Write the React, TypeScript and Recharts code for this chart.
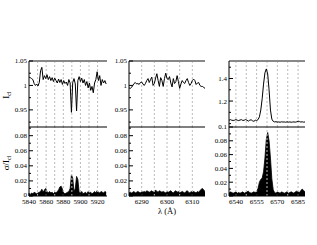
import { ComposedChart, Line, Area, XAxis, YAxis, ReferenceLine } from "recharts";

// Na D region
const naLambda = [
  5840, 5841.5, 5843, 5844.5, 5846, 5847.5, 5849, 5850.5, 5852, 5853.5,
  5855, 5856.5, 5858, 5859.5, 5861, 5862.5, 5864, 5865.5, 5867, 5868.5,
  5870, 5871.5, 5873, 5874.5, 5876, 5877.5, 5879, 5880.5, 5882, 5883.5,
  5885, 5886.5, 5888, 5889.5, 5891, 5892.5, 5894, 5895.5, 5897, 5898.5,
  5900, 5901.5, 5903, 5904.5, 5906, 5907.5, 5909, 5910.5, 5912, 5913.5,
  5915, 5916.5, 5918, 5919.5, 5921, 5922.5, 5924, 5925.5, 5927, 5928.5,
  5930,
];
const naFlux = [
  1.017, 1.016, 1.014, 1.012, 1.004, 1.0, 1.003, 0.999, 1.006, 1.03,
  1.037, 1.012, 1.02, 1.014, 1.022, 1.012, 1.018, 1.01, 1.016, 1.008,
  1.015, 1.01, 1.005, 1.013, 1.006, 1.012, 1.002, 1.01, 1.004, 1.007,
  1.0, 1.012, 1.005, 0.945, 1.006, 1.014, 1.003, 0.948, 1.01, 1.018,
  1.008, 1.015, 1.005, 1.012, 1.0, 1.008, 0.995, 1.005, 0.99, 0.998,
  0.985, 1.005, 1.012, 1.028, 1.01, 1.02, 1.0, 1.012, 1.005, 1.01,
  1.003,
];
const naSigma = [
  0.003, 0.002, 0.004, 0.003, 0.005, 0.004, 0.003, 0.004, 0.005, 0.006,
  0.009, 0.005, 0.008, 0.01, 0.006, 0.004, 0.006, 0.004, 0.005, 0.003,
  0.005, 0.004, 0.006, 0.008, 0.012, 0.013, 0.009, 0.004, 0.003, 0.004,
  0.005, 0.006, 0.01, 0.028, 0.024, 0.006, 0.01, 0.026, 0.022, 0.005,
  0.004, 0.006, 0.003, 0.004, 0.005, 0.003, 0.006, 0.004, 0.005, 0.003,
  0.004, 0.006, 0.004, 0.007, 0.005, 0.004, 0.006, 0.005, 0.004, 0.006,
  0.005,
];

// [O I] 6300 region
const oLambda = [
  6285, 6285.5, 6286, 6286.5, 6287, 6287.5, 6288, 6288.5, 6289, 6289.5,
  6290, 6290.5, 6291, 6291.5, 6292, 6292.5, 6293, 6293.5, 6294, 6294.5,
  6295, 6295.5, 6296, 6296.5, 6297, 6297.5, 6298, 6298.5, 6299, 6299.5,
  6300, 6300.5, 6301, 6301.5, 6302, 6302.5, 6303, 6303.5, 6304, 6304.5,
  6305, 6305.5, 6306, 6306.5, 6307, 6307.5, 6308, 6308.5, 6309, 6309.5,
  6310, 6310.5, 6311, 6311.5, 6312, 6312.5, 6313, 6313.5, 6314, 6314.5,
  6315,
];
const oFlux = [
  0.995, 0.994, 0.996, 1.0, 1.004, 1.006, 1.003, 1.004, 1.002, 1.006,
  1.007, 1.003, 1.0, 1.004, 1.01, 1.014, 1.006, 1.012, 1.017, 1.0,
  1.004, 1.015, 1.024, 1.01, 0.998, 1.016, 1.01, 0.998, 1.014, 1.025,
  1.014, 1.012, 1.018, 1.005, 0.997, 1.014, 1.004, 1.008, 1.02, 1.008,
  0.994, 1.003, 1.01, 1.006, 1.004, 1.01, 1.014, 1.006, 1.0, 1.004,
  1.01, 1.013, 1.01, 1.002, 1.005, 1.006, 1.0, 0.998, 0.998, 0.996,
  0.994,
];
const oSigma = [
  0.004, 0.005, 0.004, 0.005, 0.006, 0.004, 0.005, 0.006, 0.005, 0.004,
  0.006, 0.005, 0.006, 0.005, 0.007, 0.006, 0.005, 0.006, 0.007, 0.005,
  0.006, 0.008, 0.006, 0.005, 0.007, 0.006, 0.005, 0.006, 0.005, 0.004,
  0.006, 0.005, 0.006, 0.007, 0.005, 0.004, 0.006, 0.007, 0.005, 0.006,
  0.004, 0.005, 0.006, 0.005, 0.004, 0.006, 0.007, 0.005, 0.004, 0.006,
  0.005, 0.006, 0.005, 0.004, 0.006, 0.005, 0.007, 0.009, 0.01, 0.008,
  0.006,
];

// H-alpha region
const haLambda = [
  6535, 6536, 6537, 6538, 6539, 6540, 6541, 6542, 6543, 6544,
  6545, 6546, 6547, 6548, 6549, 6550, 6551, 6552, 6553, 6554,
  6555, 6556, 6557, 6558, 6559, 6560, 6561, 6562, 6563, 6564,
  6565, 6566, 6567, 6568, 6569, 6570, 6571, 6572, 6573, 6574,
  6575, 6576, 6577, 6578, 6579, 6580, 6581, 6582, 6583, 6584,
  6585, 6586, 6587, 6588, 6589, 6590,
];
const haFlux = [
  1.03, 1.035, 1.03, 1.028, 1.03, 1.036, 1.03, 1.027, 1.032, 1.035,
  1.028, 1.03, 1.036, 1.03, 1.022, 1.03, 1.034, 1.025, 1.02, 1.03,
  1.028, 1.035, 1.06, 1.12, 1.22, 1.35, 1.45, 1.485, 1.44, 1.3,
  1.12, 1.04, 1.02, 1.015, 1.017, 1.013, 1.015, 1.012, 1.016, 1.014,
  1.015, 1.012, 1.016, 1.013, 1.015, 1.012, 1.014, 1.015, 1.013, 1.016,
  1.022, 1.018, 1.014, 1.016, 1.013, 1.015,
];
const haSigma = [
  0.004, 0.006, 0.005, 0.004, 0.005, 0.006, 0.004, 0.005, 0.004, 0.005,
  0.006, 0.004, 0.005, 0.006, 0.007, 0.005, 0.004, 0.005, 0.006, 0.005,
  0.007, 0.011, 0.02, 0.024, 0.026, 0.035, 0.055, 0.082, 0.092, 0.08,
  0.055, 0.025, 0.009, 0.005, 0.004, 0.006, 0.005, 0.004, 0.006, 0.005,
  0.004, 0.005, 0.006, 0.004, 0.005, 0.006, 0.005, 0.004, 0.006, 0.007,
  0.006, 0.005, 0.008, 0.01, 0.008, 0.006,
];

// dashed guide lines and tick labels
const naGrid = [5850, 5860, 5870, 5880, 5890, 5900, 5910, 5920];
const oGrid = [6290, 6295, 6300, 6305, 6310];
const haGrid = [6540, 6547.5, 6555, 6562.5, 6570, 6577.5, 6585];
const naXTicks = [5840, 5860, 5880, 5900, 5920];
const oXTicks = [6290, 6300, 6310];
const haXTicks = [6540, 6555, 6570, 6585];

const fluxMajor = [0.95, 1, 1.05];
const fluxMinor = [0.925, 0.975, 1.025];
const haFluxMajor = [1.2, 1.4];
const haFluxMinor = [1, 1.1, 1.3, 1.5];
const sigmaMajor = [0, 0.02, 0.04, 0.06, 0.08];
const sigmaMinor = [0.01, 0.03, 0.05, 0.07, 0.09];
const haSigmaMajor = [0, 0.02, 0.04, 0.06, 0.08, 0.1];
const haSigmaMinor = [0.01, 0.03, 0.05, 0.07, 0.09];

const FONT = "Liberation Serif, DejaVu Serif, serif";
const PADL = 30;
const PADR = 4;
const PADT = 4;
const TOP = 61;
const MID = 127;
const BOT = 196;

const isIn = (list: number[], v: number) => list.some((m) => Math.abs(m - v) < 1e-9);

function Panel(props: any) {
  const { x0, x1, y0, y1, lam, vals, xDomain, yDomain, major, minor, grid, xTicks, area, topColor, topWidth } = props;
  const w = x1 - x0;
  const h = y1 - y0;
  const axisH = xTicks ? 16 : 0;
  const W = w + PADL + PADR;
  const H = h + PADT + axisH;
  const rows = lam.map((l: number, i: number) => ({ lam: l, v: vals[i] }));
  const ticks = [...major, ...minor].sort((a, b) => a - b);
  const leftEdge = PADL;
  const rightEdge = PADL + w;
  const bottomEdge = PADT + h;

  const leftTick = (p: any) => {
    const v = p.payload.value;
    const big = isIn(major, v);
    // the zero label sits a touch above the axis, as in the reference
    const dyFix = v === 0 && xTicks ? -1.5 : 0;
    return (
      <g>
        <line x1={leftEdge} x2={leftEdge + (big ? 4 : 2)} y1={p.y} y2={p.y} stroke="#000" strokeWidth={1} />
        {big && (
          <text x={leftEdge - 2} y={p.y + dyFix} dy="0.35em" textAnchor="end" fontSize={7} fontFamily={FONT} fill="#000">
            {String(v)}
          </text>
        )}
      </g>
    );
  };
  const rightTick = (p: any) => {
    const v = p.payload.value;
    const big = isIn(major, v);
    return <line x1={rightEdge} x2={rightEdge - (big ? 4 : 2)} y1={p.y} y2={p.y} stroke="#555" strokeWidth={1} />;
  };
  const bottomTick = (p: any) => (
    <g>
      <line x1={p.x} x2={p.x} y1={bottomEdge} y2={bottomEdge - 3} stroke="#000" strokeWidth={1} />
      <text x={p.x} y={bottomEdge + 3} dy="0.75em" textAnchor="middle" fontSize={7} fontFamily={FONT} fill="#000">
        {String(p.payload.value)}
      </text>
    </g>
  );

  return (
    <div style={{ position: "absolute", left: x0 - PADL, top: y0 - PADT }}>
      <ComposedChart width={W} height={H} data={rows} margin={{ top: PADT, right: PADR, bottom: 0, left: 0 }}>
        <XAxis
          dataKey="lam"
          type="number"
          domain={xDomain}
          allowDataOverflow
          ticks={xTicks ?? []}
          interval={0}
          hide={!xTicks}
          height={axisH}
          axisLine={{ stroke: "#000" }}
          tickLine={false}
          tickSize={0}
          tick={bottomTick}
        />
        <YAxis
          yAxisId="l"
          type="number"
          domain={yDomain}
          allowDataOverflow
          ticks={ticks}
          interval={0}
          width={PADL}
          axisLine={{ stroke: "#000" }}
          tickLine={false}
          tickSize={0}
          tick={leftTick}
        />
        <YAxis
          yAxisId="r"
          orientation="right"
          type="number"
          domain={yDomain}
          allowDataOverflow
          ticks={ticks}
          interval={0}
          width={0}
          axisLine={{ stroke: "#888", strokeWidth: 2 }}
          tickLine={false}
          tickSize={0}
          tick={rightTick}
        />
        {grid.map((g: number) => (
          <ReferenceLine key={g} yAxisId="l" x={g} stroke="#bbb" strokeDasharray="2 2" strokeWidth={1} />
        ))}
        {area ? (
          <Area
            yAxisId="l"
            type="linear"
            dataKey="v"
            stroke="#000"
            strokeWidth={0.8}
            fill="#000"
            fillOpacity={1}
            baseValue={0}
            dot={false}
            activeDot={false}
            isAnimationActive={false}
          />
        ) : (
          <Line
            yAxisId="l"
            type="linear"
            dataKey="v"
            stroke="#000"
            strokeWidth={1}
            dot={false}
            activeDot={false}
            isAnimationActive={false}
          />
        )}
        <ReferenceLine yAxisId="l" y={yDomain[1]} stroke={topColor} strokeWidth={topWidth} />
      </ComposedChart>
    </div>
  );
}

export default function App() {
  const cols = [
    { x0: 29, x1: 107, lam: naLambda, flux: naFlux, sigma: naSigma, xDomain: [5840, 5931], grid: naGrid, xTicks: naXTicks,
      fDomain: [0.915, 1.05], fMajor: fluxMajor, fMinor: fluxMinor, sDomain: [0, 0.0915], sMajor: sigmaMajor, sMinor: sigmaMinor },
    { x0: 129, x1: 205, lam: oLambda, flux: oFlux, sigma: oSigma, xDomain: [6285, 6315], grid: oGrid, xTicks: oXTicks,
      fDomain: [0.915, 1.05], fMajor: fluxMajor, fMinor: fluxMinor, sDomain: [0, 0.0915], sMajor: sigmaMajor, sMinor: sigmaMinor },
    { x0: 229, x1: 305, lam: haLambda, flux: haFlux, sigma: haSigma, xDomain: [6535, 6590], grid: haGrid, xTicks: haXTicks,
      fDomain: [0.97, 1.555], fMajor: haFluxMajor, fMinor: haFluxMinor, sDomain: [0, 0.1], sMajor: haSigmaMajor, sMinor: haSigmaMinor },
  ];
  return (
    <div style={{ position: "absolute", left: 0, top: 0, width: 317, height: 245, background: "#fff", overflow: "hidden" }}>
      {cols.map((c, i) => (
        <div key={i}>
          <Panel x0={c.x0} x1={c.x1} y0={TOP} y1={MID} lam={c.lam} vals={c.flux} xDomain={c.xDomain} yDomain={c.fDomain}
            major={c.fMajor} minor={c.fMinor} grid={c.grid} topColor="#888" topWidth={2} />
          <Panel x0={c.x0} x1={c.x1} y0={MID} y1={BOT} lam={c.lam} vals={c.sigma} xDomain={c.xDomain} yDomain={c.sDomain}
            major={c.sMajor} minor={c.sMinor} grid={c.grid} xTicks={c.xTicks} area topColor="#000" topWidth={1.2} />
        </div>
      ))}
      <svg width={317} height={245} style={{ position: "absolute", left: 0, top: 0, pointerEvents: "none" }}>
        <text transform="translate(9,95) rotate(-90)" textAnchor="middle" fontSize={9} fontFamily={FONT} fill="#000">
          I<tspan fontSize={6} dy={2}>cl</tspan>
        </text>
        <text transform="translate(9,163) rotate(-90)" textAnchor="middle" fontSize={9} fontFamily={FONT} fill="#000">
          σ/I<tspan fontSize={6} dy={2}>cl</tspan>
        </text>
        <text x={167} y={214} textAnchor="middle" fontSize={8.5} fontFamily={FONT} fill="#000">
          λ (Å)
        </text>
      </svg>
    </div>
  );
}
